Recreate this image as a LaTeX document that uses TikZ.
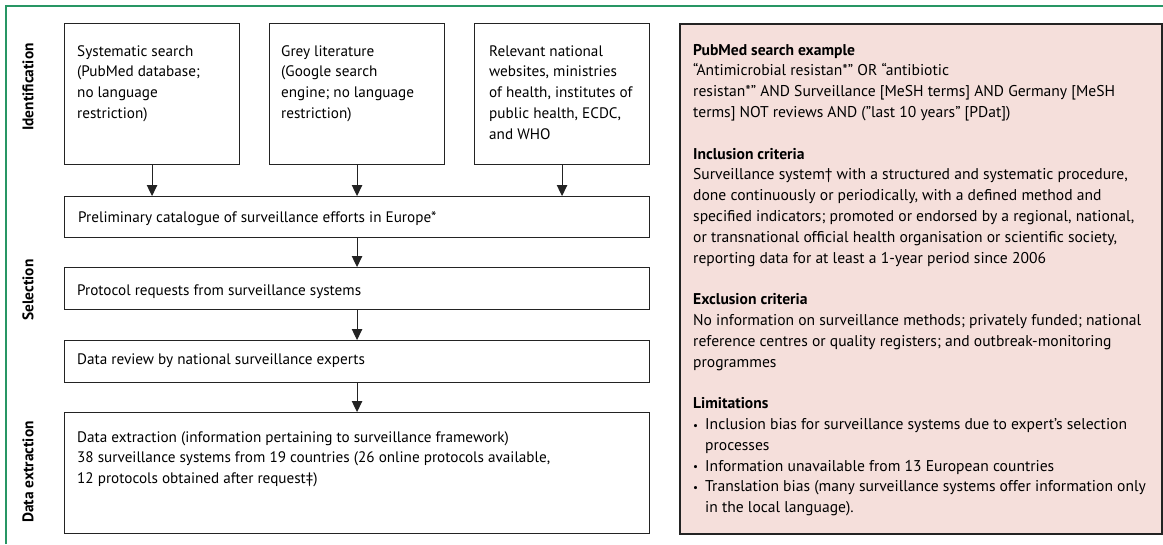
\documentclass[tikz,border=0pt]{standalone}
\usepackage{fontspec}
\setmainfont{PT Sans}
\usetikzlibrary{arrows.meta}
\definecolor{frameg}{RGB}{40,150,100}
\definecolor{pinkf}{RGB}{245,223,219}
\definecolor{lineg}{RGB}{35,35,35}
\newcommand{\bl}{\makebox[12pt][l]{\raisebox{0.5pt}{\fontsize{11}{11}\selectfont•}}}
\begin{document}
\begin{tikzpicture}[x=1pt,y=-1pt,
  box/.style={draw=lineg, line width=1.1pt, anchor=north west, inner sep=0pt},
  txt/.style={anchor=north west, inner sep=0pt, align=left, font=\fontsize{15.2}{20.8}\selectfont},
  ptxt/.style={txt, font=\fontsize{15.6}{20.8}\selectfont},
  lab/.style={rotate=90, font=\fontsize{15.4}{20}\selectfont\bfseries, inner sep=0pt},
  arr/.style={-{Triangle[width=10.5pt,length=11pt]}, line width=1.1pt, draw=lineg}]
\useasboundingbox (0,0) rectangle (1163,544);
\fill[white] (0,0) rectangle (1163,544);
\draw[frameg, line width=1.2pt] (6,544) -- (6,6) -- (1163,6);

% stage labels
\node[lab] (lid) at (28,87) {Identification};
\node[lab] (lsel) at (28,290) {Selection};
\node[lab] (lext) at (28,472) {Data extraction};

% boxes
\node[box, minimum width=175pt, minimum height=141pt] (sys) at (64,23) {};
\node[box, minimum width=175pt, minimum height=141pt] (grey) at (269,23) {};
\node[box, minimum width=175pt, minimum height=141pt] (web) at (474,23) {};
\node[box, minimum width=585pt, minimum height=41pt] (prelim) at (64,196) {};
\node[box, minimum width=585pt, minimum height=42pt] (proto) at (64,267) {};
\node[box, minimum width=585pt, minimum height=42pt] (review) at (64,340) {};
\node[box, minimum width=585pt, minimum height=121pt] (extract) at (64,412) {};

% texts (baseline of first line = y + 14.56)
\node[txt] (tsys) at (77,41.4) {\strut Systematic search\\(PubMed database;\\no language\\restriction)};
\node[txt] (tgrey) at (281,41.4) {\strut Grey literature\\(Google search\\engine; no language\\restriction)};
\node[txt] (tweb) at (489,41.4) {\strut Relevant national\\websites, ministries\\of health, institutes of\\public health, ECDC,\\and WHO};
\node[txt] (tprelim) at (78,207.4) {\strut Preliminary catalogue of surveillance efforts in Europe*};
\node[txt] (tproto) at (77,280.4) {\strut Protocol requests from surveillance systems};
\node[txt] (treview) at (77,349.4) {\strut Data review by national surveillance experts};
\node[txt] (textract) at (77,427.4) {\strut Data extraction (information pertaining to surveillance framework)\\38 surveillance systems from 19 countries (26 online protocols available,\\12 protocols obtained after request‡)};

% arrows
\draw[arr] (sys.south) -- (sys.south |- prelim.north);
\draw[arr] (grey.south) -- (grey.south |- prelim.north);
\draw[arr] (web.south) -- (web.south |- prelim.north);
\draw[arr] (prelim.south -| grey.south) -- (proto.north -| grey.south);
\draw[arr] (proto.south -| grey.south) -- (review.north -| grey.south);
\draw[arr] (review.south -| grey.south) -- (extract.north -| grey.south);

% side panel
\node[box, fill=pinkf, line width=1.5pt, minimum width=482pt, minimum height=510pt] (panel) at (679,23) {};
\node[ptxt] (tpanel) at (693,40.4) {\strut\textbf{PubMed search example}\\
“Antimicrobial resistan*” OR “antibiotic\\
resistan*” AND Surveillance [MeSH terms] AND Germany [MeSH\\
terms] NOT reviews AND (”last 10 years” [PDat])\\[20.8pt]
\textbf{Inclusion criteria}\\
Surveillance system† with a structured and systematic procedure,\\
done continuously or periodically, with a defined method and\\
specified indicators; promoted or endorsed by a regional, national,\\
or transnational official health organisation or scientific society,\\
reporting data for at least a 1-year period since 2006\\[20.8pt]
\textbf{Exclusion criteria}\\
No information on surveillance methods; privately funded; national\\
reference centres or quality registers; and outbreak-monitoring\\
programmes\\[20.8pt]
\textbf{Limitations}\\
\bl Inclusion bias for surveillance systems due to expert’s selection\\
\hspace*{12pt}processes\\
\bl Information unavailable from 13 European countries\\
\bl Translation bias (many surveillance systems offer information only\\
\hspace*{12pt}in the local language).};
\end{tikzpicture}
\end{document}
